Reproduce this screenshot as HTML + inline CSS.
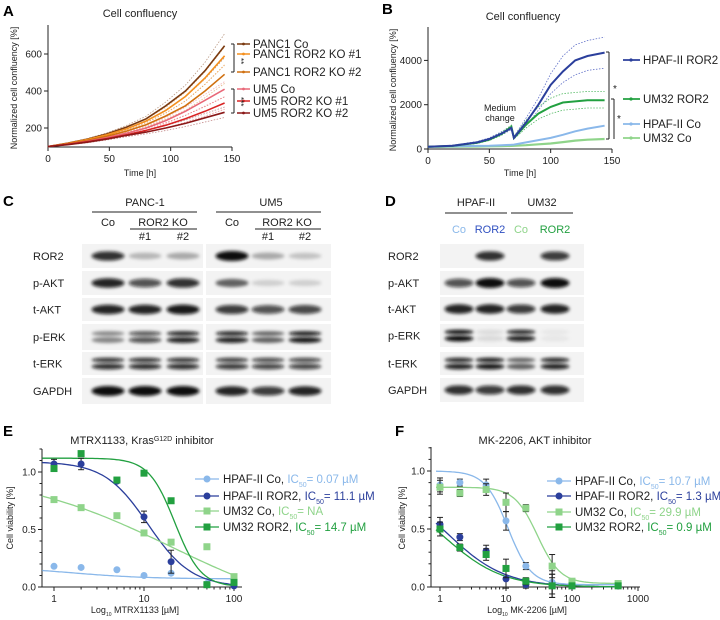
<!DOCTYPE html>
<html><head><meta charset="utf-8"><style>
body{margin:0;background:#fff}
svg{display:block;font-family:"Liberation Sans",Arial,sans-serif}
</style></head><body>
<svg id="fig" width="720" height="620" viewBox="0 0 720 620">
<defs>
<filter id="blur" x="-20%" y="-80%" width="140%" height="260%"><feGaussianBlur stdDeviation="1.5"/></filter>
</defs>
</svg>
<script>
const NS='http://www.w3.org/2000/svg';
const svg=document.getElementById('fig');
function mk(tag,attrs,name,parent){
  const el=document.createElementNS(NS,tag);
  for(const k in attrs) el.setAttribute(k,attrs[k]);
  
  
  (parent||svg).appendChild(el);
  return el;
}
function txt(x,y,s,o,name){
  o=o||{};
  const el=mk('text',{x:x,y:y,'font-size':o.fs||10,'text-anchor':o.anchor||'start',fill:o.fill||'#222','font-weight':o.fw||'normal'},name);
  if(o.rot) el.setAttribute('transform','rotate('+o.rot+' '+x+' '+y+')');
  el.textContent=s;
  return el;
}
function line(x1,y1,x2,y2,c,w,name,dash){
  const a={x1:x1,y1:y1,x2:x2,y2:y2,stroke:c,'stroke-width':w||1};
  if(dash) a['stroke-dasharray']=dash;
  return mk('line',a,name);
}
function poly(pts,c,w,name,dash){
  const a={points:pts.map(p=>p[0].toFixed(1)+','+p[1].toFixed(1)).join(' '),fill:'none',stroke:c,'stroke-width':w||1.2};
  if(dash) a['stroke-dasharray']=dash;
  return mk('polyline',a,name);
}

/* ---------------- Panel A data ---------------- */
const timesA=[0,16,32,48,64,80,96,112,128,144];
const namesA=['PANC1 Co','PANC1 ROR2 KO #1','PANC1 ROR2 KO #2','UM5 Co','UM5 ROR2 KO #1','UM5 ROR2 KO #2'];
const panc1Co=[100,118,140,168,205,250,320,400,510,645];
const panc1Ko1=[100,117,138,163,195,238,295,370,470,590];
const panc1Ko2=[100,115,133,155,183,218,265,320,400,490];
const um5Co=[100,112,128,148,172,200,240,290,350,410];
const um5Ko1=[100,112,126,143,163,187,215,250,290,335];
const um5Ko2=[100,110,123,140,160,178,200,225,255,285];
const sdA=[0.1,0.08,0.1,0.1,0.1,0.1];
const seriesA=[panc1Co,panc1Ko1,panc1Ko2,um5Co,um5Ko1,um5Ko2];
const colorsA=['#7a3a10','#f5901e','#d07010','#e86878','#d82424','#8a1818'];
const ticksAy=[200,400,600];
const ticksAx=[0,50,100,150];
const legendYA=[44,54,72,89,101,113];

const xA=t=>48+t/150*184;
const yA=v=>128-(v-200)*37/200;
txt(3,16,'A',{fs:15,fw:'bold',fill:'#000'},'panel-label-a');
txt(140,17,'Cell confluency',{fs:11,anchor:'middle'},'chart-a-title');
line(48,25,48,147,'#222',1,'chart-a-y-axis');
line(48,147,232,147,'#222',1,'chart-a-x-axis');
ticksAy.forEach(v=>{line(44,yA(v),48,yA(v),'#222',1,'y-tick');txt(42,yA(v)+3.5,String(v),{fs:10,anchor:'end'},'y-tick-label');});
ticksAx.forEach(v=>{line(xA(v),147,xA(v),151,'#222',1,'x-tick');txt(xA(v),162,String(v),{fs:10,anchor:'middle'},'x-tick-label');});
txt(140,176,'Time [h]',{fs:9,anchor:'middle'},'chart-a-x-title');
txt(17,88,'Normalized cell confluency [%]',{fs:9,anchor:'middle',rot:-90},'chart-a-y-title');
seriesA.forEach((s,i)=>{
  poly(s.map((v,j)=>[xA(timesA[j]),yA(v*(1+sdA[i]*j/9))]),colorsA[i],0.8,'sd-upper-'+i,'1.5,1.5').setAttribute('opacity','0.5');
  poly(s.map((v,j)=>[xA(timesA[j]),yA(v*(1-sdA[i]*j/9))]),colorsA[i],0.8,'sd-lower-'+i,'1.5,1.5').setAttribute('opacity','0.5');
});
seriesA.forEach((s,i)=>{poly(s.map((v,j)=>[xA(timesA[j]),yA(v)]),colorsA[i],1.6,'series-'+namesA[i].toLowerCase().replace(/[^a-z0-9]+/g,'-'));});
namesA.forEach((n,i)=>{
  line(237,legendYA[i],250,legendYA[i],colorsA[i],1.5,'legend-marker');
  mk('circle',{cx:243.5,cy:legendYA[i],r:1.4,fill:colorsA[i]},'legend-dot');
  txt(253,legendYA[i]+4,n,{fs:11.5},'legend-entry');
});
line(231,44,234,44,'#222',1,'bracket');line(234,44,234,72,'#222',1,'bracket');line(231,72,234,72,'#222',1,'bracket');
txt(238,58,'**',{fs:8,rot:90},'significance-stars');
line(231,89,234,89,'#222',1,'bracket');line(234,89,234,113,'#222',1,'bracket');line(231,113,234,113,'#222',1,'bracket');
txt(238,97,'***',{fs:8,rot:90},'significance-stars');

/* ---------------- Panel B data ---------------- */
const timesB=[0,20,40,50,60,68,70,80,90,100,110,120,130,144];
const hpafRor2=[100,150,300,450,700,950,500,1200,2000,2900,3500,4000,4200,4350];
const hpafRor2Up=[110,170,340,500,780,1050,560,1400,2300,3400,4200,4700,4900,5050];
const hpafRor2Lo=[90,135,270,410,630,870,450,1050,1750,2500,3000,3350,3550,3650];
const um32Ror2=[100,140,280,420,680,1000,500,1100,1600,1900,2100,2150,2200,2200];
const um32Ror2Up=[110,160,320,470,750,1080,560,1300,1900,2300,2500,2550,2600,2600];
const um32Ror2Lo=[90,125,250,380,620,920,450,950,1350,1600,1750,1800,1850,1850];
const hpafCo=[100,120,140,150,170,190,200,300,400,500,640,800,920,1050];
const um32Co=[100,105,115,120,130,140,145,170,210,250,310,380,420,450];
const ticksBy=[0,2000,4000];
const ticksBx=[0,50,100,150];
const xB=t=>428+t/150*184;
const yB=v=>149-v*44.3/2000;
txt(382,14,'B',{fs:15,fw:'bold',fill:'#000'},'panel-label-b');
txt(523,20,'Cell confluency',{fs:11,anchor:'middle'},'chart-b-title');
line(428,27,428,149,'#222',1,'chart-b-y-axis');
line(428,149,612,149,'#222',1,'chart-b-x-axis');
ticksBy.forEach(v=>{line(424,yB(v),428,yB(v),'#222',1,'y-tick');txt(422,yB(v)+3.5,String(v),{fs:10,anchor:'end'},'y-tick-label');});
ticksBx.forEach(v=>{line(xB(v),149,xB(v),153,'#222',1,'x-tick');txt(xB(v),164,String(v),{fs:10,anchor:'middle'},'x-tick-label');});
txt(520,176,'Time [h]',{fs:9,anchor:'middle'},'chart-b-x-title');
txt(396,90,'Normalized cell confluency [%]',{fs:9,anchor:'middle',rot:-90},'chart-b-y-title');
const P=(arr)=>arr.map((v,j)=>[xB(timesB[j]),yB(v)]);
poly(P(hpafRor2Up),'#6070c8',0.8,'sd-hpaf-ror2-upper','1.5,1.5');
poly(P(hpafRor2Lo),'#6070c8',0.8,'sd-hpaf-ror2-lower','1.5,1.5');
poly(P(um32Ror2Up),'#50b860',0.8,'sd-um32-ror2-upper','1.5,1.5');
poly(P(um32Ror2Lo),'#50b860',0.8,'sd-um32-ror2-lower','1.5,1.5');
poly(P(um32Co),'#8fd48a',2.2,'series-um32-co');
poly(P(hpafCo),'#8ab8ea',2,'series-hpaf-ii-co');
poly(P(um32Ror2),'#22a040',2,'series-um32-ror2');
poly(P(hpafRor2),'#2b3f9c',2,'series-hpaf-ii-ror2');
txt(500,111,'Medium',{fs:9,anchor:'middle'},'annotation-medium-change');
txt(500,121,'change',{fs:9,anchor:'middle'},'annotation-medium-change');
const legB=[['HPAF-II ROR2','#2b3f9c',60],['UM32 ROR2','#22a040',99],['HPAF-II Co','#8ab8ea',124],['UM32 Co','#8fd48a',138]];
legB.forEach(l=>{line(623,l[2],640,l[2],l[1],1.8,'legend-marker');mk('circle',{cx:631,cy:l[2],r:1.6,fill:l[1]},'legend-dot');txt(643,l[2]+4,l[0],{fs:11.5},'legend-entry');});
line(606,52,609,52,'#222',1,'bracket');line(609,52,609,139,'#222',1,'bracket');line(606,139,609,139,'#222',1,'bracket');
txt(613,92,'*',{fs:10},'significance-star');
line(611,99,614,99,'#222',1,'bracket');line(614,99,614,139,'#222',1,'bracket');
txt(617,122,'*',{fs:10},'significance-star');

/* ---------------- Panel C blot ---------------- */
const rowsC=['ROR2','p-AKT','t-AKT','p-ERK','t-ERK','GAPDH'];
const rowYC=[[244,268],[271,295],[298,321],[324,350],[352,375],[378,404]];
const lanesC=[108,145,183,232,268,305];
const intC=[[0.85,0.25,0.3,1,0.3,0.2],[0.9,0.7,0.85,0.6,0.15,0.15],[0.9,0.9,0.95,0.8,0.7,0.75],[0.45,0.7,0.9,0.9,0.6,0.95],[0.85,0.85,0.85,0.8,0.75,0.75],[1,1,1,0.9,0.8,0.9]];
const doubleC=[false,false,false,true,true,false];
txt(3,206,'C',{fs:15,fw:'bold',fill:'#000'},'panel-label-c');
txt(145,206,'PANC-1',{fs:11,anchor:'middle'},'group-label-panc1');
line(92,212,197,212,'#222',1,'group-line');
txt(271,206,'UM5',{fs:11,anchor:'middle'},'group-label-um5');
line(216,212,321,212,'#222',1,'group-line');
[[108,'Co'],[232,'Co']].forEach(l=>txt(l[0],226,l[1],{fs:11,anchor:'middle'},'lane-label'));
[[163,130,197],[287,255,321]].forEach(l=>{txt(l[0],226,'ROR2 KO',{fs:11,anchor:'middle'},'lane-label');line(l[1],229,l[2],229,'#222',1,'group-line');});
[[145,'#1'],[183,'#2'],[268,'#1'],[305,'#2']].forEach(l=>txt(l[0],240,l[1],{fs:11,anchor:'middle'},'lane-label'));
function blot(rows,rowY,lanes,ints,dbl,x0,x1,split,lx,pref,rx){
  rows.forEach((r,i)=>{
    const y0=rowY[i][0],y1=rowY[i][1],cy=(y0+y1)/2;
    if(split){mk('rect',{x:x0,y:y0,width:split-x0-2,height:y1-y0,fill:'#f3f3f3'},pref+'-membrane');mk('rect',{x:split+1,y:y0,width:x1-split-1,height:y1-y0,fill:'#f3f3f3'},pref+'-membrane');}
    else mk('rect',{x:x0,y:y0,width:x1-x0,height:y1-y0,fill:'#f3f3f3'},pref+'-membrane');
    txt(lx,cy+4,r,{fs:11},pref+'-row-label');
    lanes.forEach((lx2,j)=>{
      const v=ints[i][j]; if(v<=0.02) return;
      const c='rgba(10,10,10,'+Math.min(1,v).toFixed(2)+')';
      if(dbl[i]){
        mk('ellipse',{cx:lx2,cy:cy-3.5,rx:rx,ry:2.3,fill:c,filter:'url(#blur)'},pref+'-band');
        mk('ellipse',{cx:lx2,cy:cy+3,rx:rx,ry:3,fill:c,filter:'url(#blur)'},pref+'-band');
      } else mk('ellipse',{cx:lx2,cy:cy,rx:rx,ry:2.8+2.2*v,fill:c,filter:'url(#blur)'},pref+'-band');
    });
  });
}
blot(rowsC,rowYC,lanesC,intC,doubleC,82,331,205,33,'blot-c',16.5);

/* ---------------- Panel D blot ---------------- */
const rowsD=['ROR2','p-AKT','t-AKT','p-ERK','t-ERK','GAPDH'];
const rowYD=[[244,268],[271,295],[297,321],[324,347],[352,375],[378,402]];
const lanesD=[459,490,521,555];
const intD=[[0,0.85,0,0.8],[0.7,1,0.7,1],[0.9,0.9,0.8,0.9],[1,0.1,0.9,0.05],[0.9,0.95,0.6,0.9],[0.85,0.8,0.85,0.85]];
const doubleD=[false,false,false,true,true,false];
txt(385,206,'D',{fs:15,fw:'bold',fill:'#000'},'panel-label-d');
txt(476,206,'HPAF-II',{fs:11,anchor:'middle'},'group-label-hpaf');
line(445,213,507,213,'#222',1,'group-line');
txt(542,206,'UM32',{fs:11,anchor:'middle'},'group-label-um32');
line(511,213,573,213,'#222',1,'group-line');
[[459,'Co','#8ab8ea'],[490,'ROR2','#3050c0'],[521,'Co','#8fd48a'],[555,'ROR2','#22a040']].forEach(l=>txt(l[0],233,l[1],{fs:11,anchor:'middle',fill:l[2]},'lane-label'));
blot(rowsD,rowYD,lanesD,intD,doubleD,440,584,0,388,'blot-d',14.5);

/* ---------------- Panel E data ---------------- */
const dosesE=[1,2,5,10,20,50,100];
const eHpafCo=[0.18,0.17,0.15,0.10,0.12,0.03,0.07];
const eHpafRor2=[1.07,1.07,0.92,0.61,0.22,0.02,0.01];
const eHpafRor2Err=[0.04,0.05,0.01,0.05,0.1,0,0];
const eUm32Co=[0.76,0.69,0.62,0.47,0.39,0.35,0.09];
const eUm32Ror2=[1.03,1.16,0.93,0.99,0.75,0.02,0.04];
const fitE=[[0.18,0.07,1.5,1],[1.09,0,11.1,1.8],[1.0,-0.3,20,0.5],[1.12,0,22,3]];
const ticksEy=[0,0.5,1.0];
const ticksEx=[1,10,100];
const xE=d=>54+Math.log10(d)*90;
const yE=v=>587-v*115;
/* ---------------- Panel F data ---------------- */
const dosesF=[1,2,5,10,20,50,100,500];
const fHpafCo=[0.88,0.90,0.88,0.57,0.18,0.04,0.02,0.03];
const fHpafRor2=[0.54,0.43,0.31,0.07,0.02,0.01,0.01,0.01];
const fUm32Co=[0.86,0.81,0.84,0.73,0.68,0.18,0.05,0.03];
const fUm32Ror2=[0.50,0.34,0.28,0.16,0.05,0.01,0.01,0.01];
const fErr=[0.06,0.03,0.05,0.08,0.03,0.1,0.01,0.01];
const fitF=[[1.0,0.02,10.7,2.5],[0.92,0,1.3,1],[0.86,0.03,29.9,2.5],[0.85,0,1.2,1]];
const ticksFy=[0,0.5,1.0];
const ticksFx=[1,10,100,1000];
const xF=d=>440+Math.log10(d)*66;
const yF=v=>587-v*116;

const colsEF=['#8ab8ea','#2b3f9c','#8fd48a','#22a040'];
const shapes=['circle','circle','square','square'];
function doseChart(o){
  const {X,Y,ax0,ax1,ay0,yTop,label,lx,title,tx,dataSets,fits,ticksX,ticksY,err,xLbl,xLblX,ytx,legY,legX,legTxt,pre}=o;
  txt(lx,436,label,{fs:15,fw:'bold',fill:'#000'},'panel-label-'+pre);
  const t=txt(tx,444,title,{fs:11,anchor:'middle'},pre+'-title');
  if(o.sup){const s=document.createElementNS(NS,'tspan');s.setAttribute('baseline-shift','super');s.setAttribute('font-size','7');s.textContent='G12D';t.appendChild(s);const r=document.createElementNS(NS,'tspan');r.textContent=' inhibitor';t.appendChild(r);}
  line(ax0,yTop,ax0,ay0,'#222',1,pre+'-y-axis');
  line(ax0,ay0,ax1,ay0,'#222',1,pre+'-x-axis');
  for(let v=0;v<=1.2001;v+=0.1){line(ax0-(Math.abs(v*2-Math.round(v*2))<0.01?4:2.5),Y(v),ax0,Y(v),'#222',1,'y-tick');}
  ticksY.forEach(v=>txt(ax0-6,Y(v)+3.5,v.toFixed(1),{fs:10,anchor:'end'},'y-tick-label'));
  ticksX.forEach((d,i)=>{line(X(d),ay0,X(d),ay0+4,'#222',1,'x-tick');txt(X(d),ay0+15,String(d),{fs:10,anchor:'middle'},'x-tick-label');
    if(i<ticksX.length-1) for(let k=2;k<10;k++) line(X(d*k),ay0,X(d*k),ay0+2.5,'#222',1,'x-minor-tick');});
  const xl=txt(xLblX,613,'Log',{fs:9,anchor:'middle'},pre+'-x-title');
  const sb=document.createElementNS(NS,'tspan');sb.setAttribute('font-size','5');sb.setAttribute('baseline-shift','sub');sb.textContent='10';xl.appendChild(sb);
  const rt=document.createElementNS(NS,'tspan');rt.textContent=' '+xLbl;xl.appendChild(rt);
  txt(ytx,518,'Cell viability [%]',{fs:9,anchor:'middle',rot:-90},pre+'-y-title');
  fits.forEach((f,i)=>{
    const pts=[];const lo=Math.log10(o.dmin),hi=Math.log10(o.dmax);
    for(let k=0;k<=80;k++){const d=Math.pow(10,lo+(hi-lo)*k/80);let v=f[1]+(f[0]-f[1])/(1+Math.pow(d/f[2],f[3]));v=Math.max(v,0);pts.push([X(d),Y(v)]);}
    poly(pts,colsEF[i],1.3,pre+'-fit-curve-'+i);
  });
  dataSets.forEach((ds,i)=>{
    ds.vals.forEach((v,j)=>{
      const x=X(ds.doses[j]),y=Y(v);
      if(err&&err[i]){const e=err[i][j];if(e>0.005){line(x,Y(v+e),x,Y(v-e),'#222',1,'error-bar');line(x-3,Y(v+e),x+3,Y(v+e),'#222',1,'error-cap');line(x-3,Y(v-e),x+3,Y(v-e),'#222',1,'error-cap');}}
      if(shapes[i]==='circle') mk('circle',{cx:x,cy:y,r:3.5,fill:colsEF[i]},pre+'-point');
      else mk('rect',{x:x-3.5,y:y-3.5,width:7,height:7,fill:colsEF[i]},pre+'-point');
    });
  });
  legTxt.forEach((l,i)=>{
    const y=legY[i];
    line(legX,y,legX+24,y,colsEF[i],1.3,'legend-line');
    if(shapes[i]==='circle') mk('circle',{cx:legX+12,cy:y,r:3.5,fill:colsEF[i]},'legend-marker');
    else mk('rect',{x:legX+8.5,y:y-3.5,width:7,height:7,fill:colsEF[i]},'legend-marker');
    const t=txt(legX+28,y+4,l[0]+', ',{fs:11.5},'legend-entry');
    const a=document.createElementNS(NS,'tspan');a.setAttribute('fill',colsEF[i]);a.textContent='IC';t.appendChild(a);
    const b=document.createElementNS(NS,'tspan');b.setAttribute('fill',colsEF[i]);b.setAttribute('font-size','7');b.setAttribute('baseline-shift','sub');b.textContent='50';t.appendChild(b);
    const c=document.createElementNS(NS,'tspan');c.setAttribute('fill',colsEF[i]);c.textContent='= '+l[1];t.appendChild(c);
  });
}
doseChart({X:xE,Y:yE,ax0:42,ax1:242,ay0:587,yTop:449,label:'E',lx:3,title:'MTRX1133, Kras',sup:true,tx:142,
  dataSets:[{doses:dosesE,vals:eHpafCo},{doses:dosesE,vals:eHpafRor2},{doses:dosesE,vals:eUm32Co},{doses:dosesE,vals:eUm32Ror2}],
  fits:fitE,ticksX:ticksEx,ticksY:ticksEy,err:[null,eHpafRor2Err,null,null],xLbl:'MTRX1133 [µM]',xLblX:135,ytx:13,
  legY:[479,496,511,527],legX:195,legTxt:[['HPAF-II Co','0.07 µM'],['HPAF-II ROR2','11.1 µM'],['UM32 Co','NA'],['UM32 ROR2','14.7 µM']],pre:'chart-e',dmin:0.74,dmax:100});
doseChart({X:xF,Y:yF,ax0:431,ax1:640,ay0:587,yTop:447,label:'F',lx:395,title:'MK-2206, AKT inhibitor',tx:535,
  dataSets:[{doses:dosesF,vals:fHpafCo},{doses:dosesF,vals:fHpafRor2},{doses:dosesF,vals:fUm32Co},{doses:dosesF,vals:fUm32Ror2}],
  fits:fitF,ticksX:ticksFx,ticksY:ticksFy,err:[fErr,fErr,fErr,fErr],xLbl:'MK-2206 [µM]',xLblX:527,ytx:405,
  legY:[481,496,512,527],legX:547,legTxt:[['HPAF-II Co','10.7 µM'],['HPAF-II ROR2','1.3 µM'],['UM32 Co','29.9 µM'],['UM32 ROR2','0.9 µM']],pre:'chart-f',dmin:0.87,dmax:500});
</script>
</body></html>
